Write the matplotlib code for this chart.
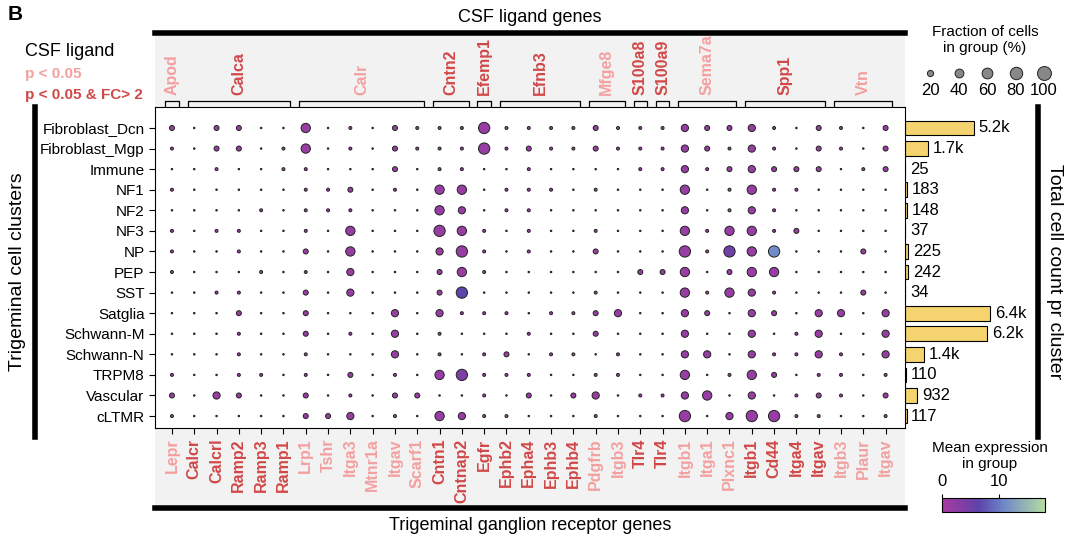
import numpy as np
import matplotlib
matplotlib.use("Agg")
import matplotlib.pyplot as plt
from matplotlib.colors import LinearSegmentedColormap, Normalize
from matplotlib.lines import Line2D
import matplotlib.colorbar as mcb

plt.rcParams['font.family'] = ['Liberation Sans', 'DejaVu Sans']

clusters = ['Fibroblast_Dcn', 'Fibroblast_Mgp', 'Immune', 'NF1', 'NF2', 'NF3', 'NP', 'PEP',
            'SST', 'Satglia', 'Schwann-M', 'Schwann-N', 'TRPM8', 'Vascular', 'cLTMR']
receptors = ['Lepr', 'Calcr', 'Calcrl', 'Ramp2', 'Ramp3', 'Ramp1', 'Lrp1', 'Tshr', 'Itga3', 'Mtnr1a',
             'Itgav', 'Scarf1', 'Cntn1', 'Cntnap2', 'Egfr', 'Ephb2', 'Epha4', 'Ephb3', 'Ephb4',
             'Pdgfrb', 'Itgb3', 'Tlr4', 'Tlr4', 'Itgb1', 'Itga1', 'Plxnc1', 'Itgb1', 'Cd44', 'Itga4',
             'Itgav', 'Itgb3', 'Plaur', 'Itgav']
# 1 = p < 0.05 & FC > 2 (dark), 0 = p < 0.05 (light)
receptor_sig = [0, 1, 1, 1, 1, 1, 0, 0, 0, 0, 0, 0, 1, 1, 1, 1, 1, 1, 1, 0, 0, 1, 1, 0, 0, 0,
                1, 1, 1, 1, 0, 0, 0]
ligands = ['Apod', 'Calca', 'Calr', 'Cntn2', 'Efemp1', 'Efnb3', 'Mfge8', 'S100a8', 'S100a9',
           'Sema7a', 'Spp1', 'Vtn']
ligand_span = [(0, 0), (1, 5), (6, 11), (12, 13), (14, 14), (15, 18), (19, 20), (21, 21),
               (22, 22), (23, 25), (26, 29), (30, 32)]
ligand_sig = [0, 1, 0, 1, 1, 1, 0, 1, 1, 0, 1, 0]

cell_counts = [5200, 1700, 25, 183, 148, 37, 225, 242, 34, 6400, 6200, 1400, 110, 932, 117]
count_labels = ['5.2k', '1.7k', '25', '183', '148', '37', '225', '242', '34', '6.4k', '6.2k',
                '1.4k', '110', '932', '117']

# fraction-of-cells level per cell (0 tiny .. 5 large), one char per receptor column
frac_level = [
    "20220040102111511" + "1121113223102102",
    "10220140102111512" + "1121113213102102",
    "00100110002011001" + "0000113123222012",
    "10000011201044011" + "1010004014110000",
    "00001011100043011" + "0000003013100000",
    "10110010400054101" + "0010004144120000",
    "10010020400035101" + "0020005154500020",
    "10001010300024100" + "0000224024400000",
    "00110020300025000" + "0010004143100020",
    "00020020003031110" + "1123003203203303",
    "00010020103010001" + "0020003003013003",
    "00010010003010120" + "1101003303113103",
    "10011010201045111" + "0011004014201101",
    "20320020102200102" + "0230113403012102",
    "10000022301043110" + "0010005035511001",
]
level_frac = [1.2, 4.6, 13, 27, 45, 66]

expr = np.full((15, 33), 1.5)
expr[8, 13] = 6.5    # SST Cntnap2
expr[6, 27] = 11.0   # NP Cd44
expr[6, 25] = 5.0    # NP Plxnc1
expr[12, 13] = 4.0   # TRPM8 Cntnap2

cmap = LinearSegmentedColormap.from_list('expr', [(0, '#a83ca2'), (0.22, '#7d3ea5'), (0.36, '#5b45aa'),
                                                  (0.6, '#6f87c9'), (1, '#b4dca2')])
norm = Normalize(0, 18)
light, dark = '#f4a0a0', '#d14848'

W, H = 1074, 542
fig = plt.figure(figsize=(W / 100, H / 100), dpi=100)

def rect(x0, y0, x1, y1):
    return [x0 / W, 1 - y1 / H, (x1 - x0) / W, (y1 - y0) / H]

xlim = (-0.76, 32.87)
# grey bands
for y0, y1 in [(35, 107), (428, 505)]:
    b = fig.add_axes(rect(155, y0, 905, y1), zorder=0)
    b.set_facecolor('#f2f2f2')
    b.set_xticks([]); b.set_yticks([])
    for s in b.spines.values():
        s.set_visible(False)

ax = fig.add_axes(rect(155, 107, 905, 428), zorder=2)
xs, ys, ss, cs = [], [], [], []
for i in range(15):
    for j in range(33):
        xs.append(j); ys.append(i)
        ss.append(level_frac[int(frac_level[i][j])])
        cs.append(expr[i, j])
ax.scatter(xs, ys, s=ss, c=cs, cmap=cmap, norm=norm, edgecolors='#222222', linewidths=0.7)
ax.set_xlim(*xlim)
ax.set_ylim(14.58, -1.02)
ax.set_yticks(range(15))
ax.set_yticklabels(clusters, fontsize=11)
ax.set_xticks(range(33))
ax.set_xticklabels(receptors, rotation=90, fontsize=11.5, fontweight='bold')
for t, sg in zip(ax.get_xticklabels(), receptor_sig):
    t.set_color(dark if sg else light)
ax.tick_params(length=4, width=0.8)

# ligand labels + brackets
top = fig.add_axes(rect(155, 35, 905, 107), zorder=1)
top.set_xlim(*xlim); top.set_ylim(0, 1)
top.axis('off')
for name, (a, b), sg in zip(ligands, ligand_span, ligand_sig):
    col = dark if sg else light
    top.plot([a - 0.3, a - 0.3, b + 0.3, b + 0.3], [0, 0.08, 0.08, 0], color='black', lw=0.9)
    top.text((a + b) / 2, 0.17, name, rotation=90, ha='center', va='bottom', color=col,
             fontsize=11.5, fontweight='bold')

# bar chart of counts
bx = fig.add_axes(rect(905, 107, 1038, 428), zorder=1)
bx.barh(range(15), cell_counts, height=0.72, color='#f5d470', edgecolor='black', linewidth=0.8)
for i, (v, lab) in enumerate(zip(cell_counts, count_labels)):
    bx.text(v + 350, i, lab, va='center', ha='left', fontsize=12)
bx.set_xlim(0, 10000)
bx.set_ylim(14.58, -1.02)
bx.axis('off')

# heavy bars
for x0, y0, x1, y1 in [(155, 33, 905, 33), (155, 508, 905, 508), (35, 107, 35, 437),
                       (1038, 107, 1038, 437)]:
    fig.add_artist(Line2D([x0 / W, x1 / W], [1 - y0 / H, 1 - y1 / H], color='black', lw=4))

fig.text(530 / W, 1 - 18 / H, 'CSF ligand genes', ha='center', va='center', fontsize=13)
fig.text(530 / W, 1 - 525 / H, 'Trigeminal ganglion receptor genes', ha='center', va='center', fontsize=13)
fig.text(18 / W, 1 - 272 / H, 'Trigeminal cell clusters', rotation=90, ha='center', va='center', fontsize=14)
fig.text(1055 / W, 1 - 272 / H, 'Total cell count pr cluster', rotation=270, ha='center', va='center', fontsize=14)
fig.text(8 / W, 1 - 15 / H, 'B', fontsize=15, fontweight='bold', va='center')
fig.text(25 / W, 1 - 52 / H, 'CSF ligand', fontsize=13, va='center')
fig.text(25 / W, 1 - 74 / H, 'p < 0.05', fontsize=11, color=light, fontweight='bold', va='center')
fig.text(25 / W, 1 - 95 / H, 'p < 0.05 & FC> 2', fontsize=11, color=dark, fontweight='bold', va='center')

# size legend
fig.text(985 / W, 1 - 40 / H, 'Fraction of cells\nin group (%)', ha='center', va='center', fontsize=11,
         linespacing=1.1)
lg = fig.add_axes(rect(915, 62, 1060, 98))
lg.set_xlim(0, 145); lg.set_ylim(1, 0)
lg.axis('off')
for k, p in enumerate([20, 40, 60, 80, 100]):
    x = 15 + k * 28.5
    lg.scatter([x], [0.3], s=p * 1.0, color='#888888', edgecolors='#222222', linewidths=0.7)
    lg.text(x, 0.8, str(p), ha='center', va='center', fontsize=12)

# colorbar
fig.text(990 / W, 1 - 456 / H, 'Mean expression\nin group', ha='center', va='center', fontsize=11,
         linespacing=1.1)
cax = fig.add_axes(rect(942, 498, 1045, 512))
cb = mcb.ColorbarBase(cax, cmap=cmap, norm=norm, orientation='horizontal', ticks=[0, 10])
cb.ax.xaxis.set_ticks_position('top')
cb.ax.tick_params(labelsize=12, length=3)
cb.outline.set_linewidth(0.8)

fig.savefig('out.png', dpi=100)
